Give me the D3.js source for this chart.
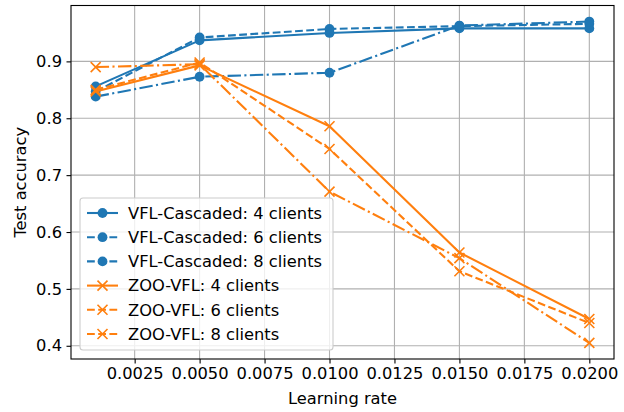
<!DOCTYPE html>
<html><head><meta charset="utf-8">
<script src="https://cdn.jsdelivr.net/npm/d3@7/dist/d3.min.js"></script>
<style>body{margin:0;background:#fff}svg{display:block}text{font-family:"DejaVu Sans",sans-serif;fill:#000}</style>
</head><body><svg id="c" width="624" height="412"></svg>
<script>
const learningRates = [0.001, 0.005, 0.01, 0.015, 0.02];
const xTicks = [0.0025, 0.005, 0.0075, 0.01, 0.0125, 0.015, 0.0175, 0.02];
const yTicks = [0.4, 0.5, 0.6, 0.7, 0.8, 0.9];
const seriesNames = ["VFL-Cascaded: 4 clients","VFL-Cascaded: 6 clients","VFL-Cascaded: 8 clients","ZOO-VFL: 4 clients","ZOO-VFL: 6 clients","ZOO-VFL: 8 clients"];
const vfl4 = [0.856, 0.937, 0.950, 0.958, 0.958];
const vfl6 = [0.847, 0.942, 0.957, 0.962, 0.966];
const vfl8 = [0.838, 0.873, 0.880, 0.963, 0.970];
const zoo4 = [0.847, 0.893, 0.786, 0.564, 0.447];
const zoo6 = [0.850, 0.898, 0.746, 0.531, 0.440];
const zoo8 = [0.890, 0.895, 0.671, 0.554, 0.405];

const seriesValues = [vfl4, vfl6, vfl8, zoo4, zoo6, zoo8];
const colors = ["#1f77b4","#1f77b4","#1f77b4","#ff7f0e","#ff7f0e","#ff7f0e"];
const markers = ["o","o","o","x","x","x"];
const lw = 2.1;
const dashes = [null, [7.8,3.4], [13.4,3.4,2.1,3.4], null, [7.8,3.4], [13.4,3.4,2.1,3.4]];
const FS = "16.3px";

const L = 71, R = 614, T = 5.5, B = 359;
const svg = d3.select("#c");
const allY = seriesValues.flat();
const xmin = d3.min(learningRates), xmax = d3.max(learningRates);
const ymin = d3.min(allY), ymax = d3.max(allY);
const xm = (xmax - xmin) * 0.05, ym = (ymax - ymin) * 0.05;
const x = d3.scaleLinear().domain([xmin - xm, xmax + xm]).range([L, R]);
const y = d3.scaleLinear().domain([ymin - ym, ymax + ym]).range([B, T]);

// grid
const g = svg.append("g");
g.selectAll(".gx").data(xTicks).join("line")
  .attr("x1", d => x(d)).attr("x2", d => x(d)).attr("y1", T).attr("y2", B)
  .attr("stroke", "#b0b0b0").attr("stroke-width", 1.1);
g.selectAll(".gy").data(yTicks).join("line")
  .attr("y1", d => y(d)).attr("y2", d => y(d)).attr("x1", L).attr("x2", R)
  .attr("stroke", "#b0b0b0").attr("stroke-width", 1.1);

// axes
const xAxis = d3.axisBottom(x).tickValues(xTicks).tickFormat(d3.format(".4f")).tickSize(4.5).tickPadding(4.2);
const yAxis = d3.axisLeft(y).tickValues(yTicks).tickFormat(d3.format(".1f")).tickSize(4.5).tickPadding(4.5);
const gx = svg.append("g").attr("transform", `translate(0,${B})`).call(xAxis);
const gy = svg.append("g").attr("transform", `translate(${L},0)`).call(yAxis);
[gx, gy].forEach(a => {
  a.select(".domain").remove();
  a.selectAll(".tick line").attr("stroke", "#000").attr("stroke-width", 1.1);
  a.selectAll("text").style("font-size", FS).style("font-family", "DejaVu Sans");
});

// lines
const line = d3.line().x((d, i) => x(learningRates[i])).y(d => y(d));
function drawMarker(sel, type, color, cx, cy) {
  if (type === "o") {
    sel.append("circle").attr("cx", cx).attr("cy", cy).attr("r", 4.9).attr("fill", color);
  } else {
    const s = 5;
    sel.append("path").attr("d", `M${cx-s},${cy-s}L${cx+s},${cy+s}M${cx-s},${cy+s}L${cx+s},${cy-s}`)
      .attr("stroke", color).attr("stroke-width", 1.6).attr("fill", "none");
  }
}
const plot = svg.append("g");
seriesValues.forEach((vals, k) => {
  const sg = plot.append("g");
  sg.append("path").attr("d", line(vals)).attr("fill", "none").attr("stroke", colors[k])
    .attr("stroke-width", lw).attr("stroke-linejoin", "round")
    .attr("stroke-dasharray", dashes[k] ? dashes[k].join(",") : null);
  vals.forEach((v, i) => drawMarker(sg, markers[k], colors[k], x(learningRates[i]), y(v)));
});

// frame
svg.append("rect").attr("x", L).attr("y", T).attr("width", R - L).attr("height", B - T)
  .attr("fill", "none").attr("stroke", "#000").attr("stroke-width", 1.1);

// labels
svg.append("text").attr("x", (L + R) / 2).attr("y", 404).attr("text-anchor", "middle")
  .style("font-size", FS).text("Learning rate");
svg.append("text").attr("transform", `translate(26,${(T + B) / 2}) rotate(-90)`).attr("text-anchor", "middle")
  .style("font-size", FS).text("Test accuracy");

// legend
const lg = svg.append("g");
const lx = 80, ly = 198, lwid = 253, rowH = 24.2;
lg.append("rect").attr("x", lx).attr("y", ly).attr("width", lwid).attr("height", 152).attr("rx", 3)
  .attr("fill", "#fff").attr("fill-opacity", 0.8).attr("stroke", "#cccccc").attr("stroke-width", 1.1);
seriesNames.forEach((name, k) => {
  const cy = ly + 15 + k * rowH;
  lg.append("line").attr("x1", lx + 7).attr("x2", lx + 38).attr("y1", cy).attr("y2", cy)
    .attr("stroke", colors[k]).attr("stroke-width", lw)
    .attr("stroke-dasharray", dashes[k] ? (k === 2 || k === 5 ? "7.8,3.4" : dashes[k].join(",")) : null);
  drawMarker(lg, markers[k], colors[k], lx + 22.5, cy);
  lg.append("text").attr("x", lx + 48).attr("y", cy).attr("dy", "0.35em")
    .style("font-size", FS).text(name);
});
</script></body></html>
